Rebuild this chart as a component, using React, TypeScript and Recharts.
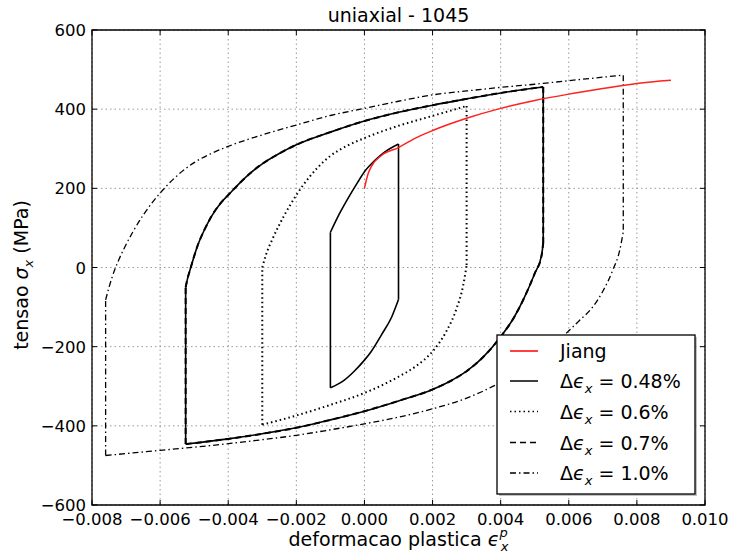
import React from "react";
import { ComposedChart, Line, XAxis, YAxis, CartesianGrid, ReferenceArea } from "recharts";

// ---- data ----
const xTicks = [-0.008, -0.006, -0.004, -0.002, 0, 0.002, 0.004, 0.006, 0.008, 0.01];
const yTicks = [-600, -400, -200, 0, 200, 400, 600];

const jiangX = [0, 0.0001, 0.0002, 0.0005, 0.001, 0.0015, 0.002, 0.003, 0.004, 0.005, 0.006, 0.007, 0.008, 0.009];
const jiangY = [200, 235, 255, 283, 303, 327, 346, 377, 402, 422, 438, 452, 465, 473];

// Δεx = 0.48 %  (inner loop): loading branch and unloading branch (both by increasing strain)
const l048UpX = [-0.001, -0.0008, -0.0005, -0.0002, 0, 0.0003, 0.0006, 0.001];
const l048UpY = [89, 125, 172, 215, 242, 270, 292, 312];
const l048LoX = [-0.001, -0.0006, -0.0003, 0, 0.0002, 0.0005, 0.0008, 0.001];
const l048LoY = [-304, -285, -262, -234, -212, -170, -125, -81];

// Δεx = 0.6 %
const l06UpX = [-0.003, -0.0029, -0.0027, -0.0025, -0.0022, -0.0018, -0.0014, -0.001, -0.0005, 0, 0.001, 0.002, 0.003];
const l06UpY = [0, 30, 72, 108, 155, 208, 250, 282, 308, 327, 358, 383, 408];
const l06LoX = [-0.003, -0.002, -0.001, 0, 0.0005, 0.001, 0.0015, 0.002, 0.0024, 0.0027, 0.0029, 0.003];
const l06LoY = [-397, -374, -347, -317, -298, -276, -250, -212, -162, -105, -45, 5];

// Δεx = 0.7 % (drawn dashed, on top of the solid large loop)
const l07UpX = [-0.00525, -0.0052, -0.0051, -0.0049, -0.0047, -0.0045, -0.0042, -0.004, -0.0037, -0.0033, -0.003, -0.0025, -0.002, -0.001, 0, 0.001, 0.002, 0.003, 0.004, 0.00525];
const l07UpY = [-50, -30, 0, 55, 95, 128, 165, 183, 210, 242, 262, 288, 310, 342, 370, 392, 410, 426, 441, 456];
const l07LoX = [-0.00525, -0.004, -0.003, -0.002, -0.001, 0, 0.001, 0.002, 0.0025, 0.003, 0.0035, 0.004, 0.0044, 0.0047, 0.005, 0.0052, 0.00525];
const l07LoY = [-446, -433, -420, -405, -385, -363, -337, -308, -288, -262, -225, -175, -125, -75, -15, 30, 62];

// Δεx = 1.0 %
const l10UpX = [-0.0076, -0.0075, -0.0074, -0.0072, -0.007, -0.0068, -0.0065, -0.006, -0.0055, -0.005, -0.0045, -0.004, -0.003, -0.002, -0.001, 0, 0.001, 0.002, 0.003, 0.004, 0.005, 0.006, 0.0076];
const l10UpY = [-82, -50, -22, 22, 58, 90, 132, 188, 232, 265, 288, 306, 335, 360, 384, 402, 420, 436, 446, 455, 463, 472, 486];
const l10LoX = [-0.0076, -0.006, -0.005, -0.004, -0.003, -0.002, -0.001, 0, 0.001, 0.002, 0.003, 0.004, 0.0045, 0.005, 0.0055, 0.006, 0.0063, 0.0067, 0.007, 0.0073, 0.0075, 0.0076];
const l10LoY = [-475, -462, -454, -445, -435, -424, -410, -395, -378, -357, -330, -290, -265, -235, -200, -160, -135, -100, -60, -5, 45, 90];

type Pt = { x: number; y: number };
const zip = (xs: number[], ys: number[]): Pt[] => xs.map((x, i) => ({ x, y: ys[i] }));
const jiang = zip(jiangX, jiangY);

const makeLoop = (ux: number[], uy: number[], lx: number[], ly: number[]) => {
  const up = zip(ux, uy);
  const lo = zip(lx, ly);
  return {
    up,
    lo,
    right: [up[up.length - 1], lo[lo.length - 1]],
    left: [lo[0], up[0]],
  };
};
const loop048 = makeLoop(l048UpX, l048UpY, l048LoX, l048LoY);
const loop06 = makeLoop(l06UpX, l06UpY, l06LoX, l06LoY);
const loop07 = makeLoop(l07UpX, l07UpY, l07LoX, l07LoY);
const loop10 = makeLoop(l10UpX, l10UpY, l10LoX, l10LoY);

const FONT = "DejaVu Sans";
const P = { left: 92, right: 705, top: 30, bottom: 505 };

const fmt = (v: number, d: number) => {
  const s = Math.abs(v).toFixed(d);
  return v < 0 ? "\u2212" + s : s;
};

const XTick = (props: any) => {
  const { x, payload } = props;
  return (
    <g>
      <line x1={x} x2={x} y1={P.bottom} y2={P.bottom - 5} stroke="#000" />
      <line x1={x} x2={x} y1={P.top} y2={P.top + 5} stroke="#000" />
      <text x={x} y={525} textAnchor="middle" fontSize={16.5} fontFamily={FONT} fill="#000">
        {fmt(payload.value, 3)}
      </text>
    </g>
  );
};

const YTick = (props: any) => {
  const { y, payload } = props;
  return (
    <g>
      <line x1={P.left} x2={P.left + 5} y1={y} y2={y} stroke="#000" />
      <line x1={P.right} x2={P.right - 5} y1={y} y2={y} stroke="#000" />
      <text x={86} y={y + 6} textAnchor="end" fontSize={16.5} fontFamily={FONT} fill="#000">
        {fmt(payload.value, 0)}
      </text>
    </g>
  );
};

const renderLoop = (key: string, loop: ReturnType<typeof makeLoop>, style: any) => [
  <Line key={key + "u"} data={loop.up} dataKey="y" type="monotone" dot={false} activeDot={false} isAnimationActive={false} {...style} />,
  <Line key={key + "l"} data={loop.lo} dataKey="y" type="monotone" dot={false} activeDot={false} isAnimationActive={false} {...style} />,
  <Line key={key + "r"} data={loop.right} dataKey="y" type="linear" dot={false} activeDot={false} isAnimationActive={false} {...style} />,
  <Line key={key + "f"} data={loop.left} dataKey="y" type="linear" dot={false} activeDot={false} isAnimationActive={false} {...style} />,
];

const legendRows = [
  { label: null as string | null, text: "Jiang", color: "#ff0000", dash: undefined as string | undefined },
  { label: "0.48%", text: "", color: "#000", dash: undefined },
  { label: "0.6%", text: "", color: "#000", dash: "1.5 3" },
  { label: "0.7%", text: "", color: "#000", dash: "6 4" },
  { label: "1.0%", text: "", color: "#000", dash: "6 3 1.5 3" },
];
const rowY = [351, 381, 411.5, 442.5, 473];

export default function App() {
  return (
    <div style={{ position: "relative", width: 729, height: 558 }}>
      <style>{`body{margin:0}`}</style>
      <ComposedChart width={729} height={558} margin={{ top: P.top, right: 729 - P.right, bottom: 0, left: 0 }}>
        <CartesianGrid stroke="#999" strokeDasharray="1.5 3" />
        <XAxis
          dataKey="x"
          type="number"
          domain={[-0.008, 0.01]}
          ticks={xTicks}
          height={558 - P.bottom}
          axisLine={false}
          tickLine={false}
          tick={<XTick />}
          allowDataOverflow
          interval={0}
        />
        <YAxis
          type="number"
          domain={[-600, 600]}
          ticks={yTicks}
          width={P.left}
          axisLine={false}
          tickLine={false}
          tick={<YTick />}
          allowDataOverflow
          interval={0}
        />
        {renderLoop("d10", loop10, { stroke: "#000", strokeWidth: 1.3, strokeDasharray: "6 3 1.5 3" })}
        {renderLoop("d06", loop06, { stroke: "#000", strokeWidth: 2, strokeDasharray: "1.5 3" })}
        {renderLoop("d07s", loop07, { stroke: "#000", strokeWidth: 1.6 })}
        {renderLoop("d07", loop07, { stroke: "#000", strokeWidth: 2, strokeDasharray: "6 4" })}
        {renderLoop("d048", loop048, { stroke: "#000", strokeWidth: 1.6 })}
        <Line data={jiang} dataKey="y" stroke="#ff2020" strokeWidth={1.5} type="monotone" dot={false} activeDot={false} isAnimationActive={false} />
        <ReferenceArea x1={-0.008} x2={0.01} y1={-600} y2={600} fill="none" stroke="#000" strokeWidth={1.3} ifOverflow="visible" />
      </ComposedChart>
      <svg width={729} height={558} style={{ position: "absolute", left: 0, top: 0, pointerEvents: "none" }} fontFamily={FONT}>
        <text x={398.5} y={22} textAnchor="middle" fontSize={19} fill="#000">uniaxial - 1045</text>
        <text x={398.5} y={546} textAnchor="middle" fontSize={19} fill="#000">
          deformacao plastica{"  "}
          <tspan fontStyle="italic">{"\u03f5"}</tspan>
          <tspan fontStyle="italic" fontSize={13} dy={-9}>p</tspan>
          <tspan fontStyle="italic" fontSize={13} dx={-7} dy={14}>x</tspan>
        </text>
        <text transform="translate(28,275) rotate(-90)" textAnchor="middle" fontSize={19} fill="#000">
          tensao <tspan fontStyle="italic">{"\u03c3"}</tspan>
          <tspan fontStyle="italic" fontSize={13} dy={5}>x</tspan>
          <tspan dy={-5}> (MPa)</tspan>
        </text>
        <rect x={499} y={337} width={198} height={159} fill="#888" opacity={0.5} />
        <rect x={497} y={335} width={198} height={159} fill="#fff" stroke="#000" strokeWidth={1.3} />
        {legendRows.map((r, i) => (
          <g key={i}>
            <line x1={510} x2={538} y1={rowY[i]} y2={rowY[i]} stroke={r.color} strokeWidth={1.5} strokeDasharray={r.dash} />
            {r.label === null ? (
              <text x={560} y={rowY[i] + 7} fontSize={19} fill="#000">{r.text}</text>
            ) : (
              <text x={560} y={rowY[i] + 7} fontSize={19} fill="#000">
                {"\u0394"}<tspan fontStyle="italic">{"\u03f5"}</tspan>
                <tspan fontStyle="italic" fontSize={13} dy={5}>x</tspan>
                <tspan dy={-5}>{" = " + r.label}</tspan>
              </text>
            )}
          </g>
        ))}
      </svg>
    </div>
  );
}
